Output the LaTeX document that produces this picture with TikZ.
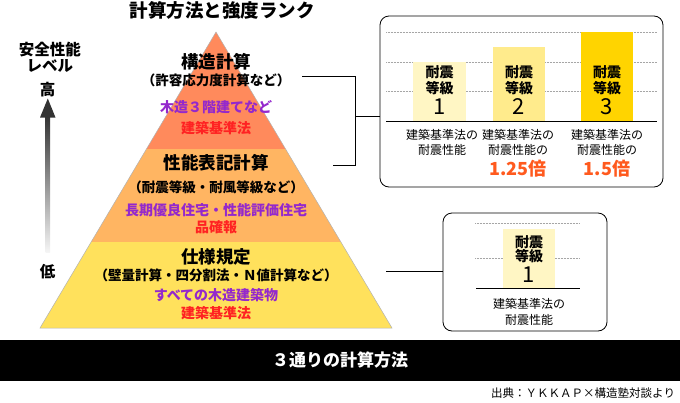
\documentclass[tikz,border=0pt]{standalone}
\usepackage{fontspec}
\setmainfont{Noto Sans CJK JP}
\definecolor{bandA}{HTML}{FF8A5C}
\definecolor{bandB}{HTML}{FFB562}
\definecolor{bandC}{HTML}{FFE15C}
\definecolor{purp}{HTML}{9428CC}
\definecolor{redt}{HTML}{FF2222}
\definecolor{orgt}{HTML}{FF5A1E}
\definecolor{barA}{HTML}{FFF6C4}
\definecolor{barB}{HTML}{FFEB8C}
\definecolor{barC}{HTML}{FFD400}
\begin{document}
\begin{tikzpicture}[x=1pt,y=-1pt,
  every node/.style={inner sep=0pt,outer sep=0pt,align=center},
  head/.style={font=\fontsize{17.5}{19}\selectfont\bfseries},
  paren/.style={font=\fontsize{13.5}{15}\selectfont\bfseries},
  purpt/.style={font=\fontsize{14}{16}\selectfont\bfseries,text=purp},
  redtx/.style={font=\fontsize{14}{16}\selectfont\bfseries,text=redt},
  barlab/.style={font=\fontsize{14}{16}\selectfont\bfseries},
  barnum/.style={font=\fontsize{22}{24}\selectfont},
  subt/.style={font=\fontsize{12}{15.5}\selectfont},
  bigo/.style={font=\fontsize{18}{20}\selectfont\bfseries,text=orgt},
  sidel/.style={font=\fontsize{15.5}{16}\selectfont\bfseries},
  grid/.style={densely dotted,gray!70,line width=0.5pt},
  conn/.style={line width=0.8pt,black},
  rbox/.style={draw=black,line width=0.8pt,rounded corners=9pt}]
\useasboundingbox (0,0) rectangle (680,402);
% title
\node[font=\fontsize{18.5}{20}\selectfont\bfseries] (title) at (222,10) {計算方法と強度ランク};
% pyramid
\begin{scope}
\clip (216,32) -- (392,328) -- (40,328) -- cycle;
\fill[bandA] (30,30) rectangle (400,149);
\fill[bandB] (30,149) rectangle (400,242);
\fill[bandC] (30,242) rectangle (400,330);
\end{scope}
\draw[gray!60,line width=0.5pt] (216,32) -- (392,328) -- (40,328) -- cycle;
% pyramid texts
\node[head] (t1) at (216,62) {構造計算};
\node[paren] (p1) at (216,80) {（許容応力度計算など）};
\node[purpt] (u1) at (216,107) {木造３階建てなど};
\node[redtx] (r1) at (216,128) {建築基準法};
\node[head] (t2) at (216,163) {性能表記計算};
\node[paren] (p2) at (216,187) {（耐震等級・耐風等級など）};
\node[purpt] (u2) at (216,210) {長期優良住宅・性能評価住宅};
\node[redtx] (r2) at (216,227) {品確報};
\node[head] (t3) at (216,257) {仕様規定};
\node[paren] (p3) at (216,275) {（壁量計算・四分割法・Ｎ値計算など）};
\node[purpt] (u3) at (216,295) {すべての木造建築物};
\node[redtx] (r3) at (216,313) {建築基準法};
% safety level arrow
\node[sidel] (lvl1) at (50,50) {安全性能};
\node[sidel] (lvl2) at (50,66) {レベル};
\node[sidel] (hi) at (47.5,90) {高};
\node[sidel] (lo) at (47.5,272) {低};
\shade[top color=black!80,bottom color=black!4] (45.5,116) rectangle (50,252);
\fill[black!80] (40,117.5) -- (55.5,117.5) -- (47.8,98.5) -- cycle;
% bracket connector
\coordinate (b1) at (302,76);
\coordinate (b2) at (355,76);
\coordinate (b3) at (355,165);
\coordinate (b4) at (333,165);
\coordinate (bm) at (355,116);
\draw[conn] (b1) -- (b2) -- (b3) -- (b4);
% right box 1
\node[rbox,minimum width=283pt,minimum height=171pt] (box1) at (521.5,101.5) {};
\draw[conn] (bm) -- (box1.west |- bm);
\foreach \yy in {32,62,91} \draw[grid] (386,\yy) -- (657,\yy);
\fill[barA] (413,62) rectangle (466,121);
\fill[barB] (493,47) rectangle (545,121);
\fill[barC] (581,32) rectangle (633,121);
\draw[line width=0.8pt] (386,121) -- (657,121);
\node[barlab] (g1a) at (439.5,72) {耐震};
\node[barlab] (g1b) at (439.5,88) {等級};
\node[barnum] (g1n) at (439.5,107) {1};
\node[barlab] (g2a) at (519,72) {耐震};
\node[barlab] (g2b) at (519,88) {等級};
\node[barnum] (g2n) at (519,107) {2};
\node[barlab] (g3a) at (607,72) {耐震};
\node[barlab] (g3b) at (607,88) {等級};
\node[barnum] (g3n) at (607,107) {3};
\node[subt] (s1) at (442,142.5) {建築基準法の\\耐震性能};
\node[subt] (s2) at (518,142.5) {建築基準法の\\耐震性能の};
\node[subt] (s3) at (607,142.5) {建築基準法の\\耐震性能の};
\node[bigo] (k2) at (518,169) {1.25倍};
\node[bigo] (k3) at (607,169) {1.5倍};
% right box 2
\node[rbox,minimum width=164pt,minimum height=118pt] (box2) at (525,272) {};
\coordinate (c1) at (386,271);
\draw[conn] (c1) -- (box2.west |- c1);
\foreach \yy in {223,258} \draw[grid] (475,\yy) -- (580,\yy);
\fill[barA] (503,229) rectangle (555,288);
\draw[line width=0.8pt] (476,288) -- (580,288);
\node[barlab] (h1a) at (529,242) {耐震};
\node[barlab] (h1b) at (529,256) {等級};
\node[barnum] (h1n) at (529,275) {1};
\node[subt] (s4) at (529,312) {建築基準法の\\耐震性能};
% bottom bar
\fill[black] (0,340) rectangle (680,381);
\node[font=\fontsize{17}{19}\selectfont\bfseries,text=white] (foot) at (340,360) {３通りの計算方法};
\node[font=\fontsize{11.5}{13}\selectfont,anchor=east] (src) at (675,393) {出典：ＹＫＫＡＰ×構造塾対談より};
\end{tikzpicture}
\end{document}
